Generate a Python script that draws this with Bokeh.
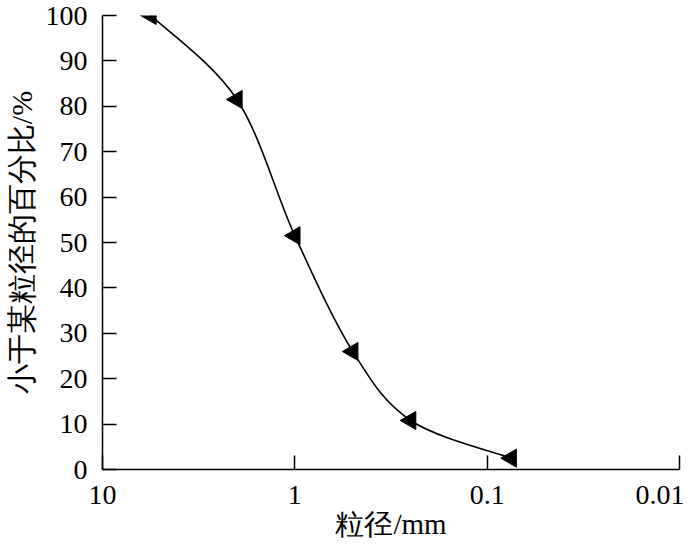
import math
import numpy as np
from bokeh.plotting import figure
from bokeh.models import Range1d, FixedTicker, CustomJSTickFormatter
from bokeh.embed import file_html
from bokeh.resources import INLINE

# ---- data ----
size_mm = [5.6, 2.0, 1.0, 0.5, 0.25, 0.075]
pct_finer = [100.0, 81.5, 51.5, 26.0, 10.8, 2.5]
x_ticks = [10, 1, 0.1, 0.01]
y_ticks = [0, 10, 20, 30, 40, 50, 60, 70, 80, 90, 100]

SERIF = "Times New Roman, Liberation Serif, serif"

p = figure(width=684, height=544, output_backend="svg", toolbar_location=None,
           x_axis_type="log", x_range=Range1d(10, 0.01), y_range=Range1d(0, 100),
           min_border_left=102, min_border_right=5, min_border_top=15, min_border_bottom=75)
p.outline_line_color = None
p.xgrid.grid_line_color = None
p.ygrid.grid_line_color = None
p.background_fill_color = "white"
p.border_fill_color = "white"

# smooth curve: Catmull-Rom segments in (log x, y) drawn as cubic beziers
lx = np.log10(np.array(size_mm))
yy = np.array(pct_finer)
n = len(lx)
x0s, y0s, x1s, y1s, cx0s, cy0s, cx1s, cy1s = [], [], [], [], [], [], [], []
for i in range(n - 1):
    pm = (lx[max(i - 1, 0)], yy[max(i - 1, 0)])
    p0 = (lx[i], yy[i])
    p1 = (lx[i + 1], yy[i + 1])
    p2 = (lx[min(i + 2, n - 1)], yy[min(i + 2, n - 1)])
    c0 = (p0[0] + (p1[0] - pm[0]) / 6, p0[1] + (p1[1] - pm[1]) / 6)
    c1 = (p1[0] - (p2[0] - p0[0]) / 6, p1[1] - (p2[1] - p0[1]) / 6)
    x0s.append(10 ** p0[0]); y0s.append(p0[1])
    x1s.append(10 ** p1[0]); y1s.append(p1[1])
    cx0s.append(10 ** c0[0]); cy0s.append(c0[1])
    cx1s.append(10 ** c1[0]); cy1s.append(c1[1])
p.bezier(x0=x0s, y0=y0s, x1=x1s, y1=y1s, cx0=cx0s, cy0=cy0s, cx1=cx1s, cy1=cy1s,
         line_color="black", line_width=1.6)

p.scatter(size_mm, pct_finer, marker="triangle", size=18, angle=math.pi / 2,
          fill_color="black", line_color="black")

for ax in (p.xaxis[0], p.yaxis[0]):
    ax.axis_line_color = "black"
    ax.axis_line_width = 1.5
    ax.major_tick_line_color = "black"
    ax.major_tick_line_width = 1.5
    ax.major_tick_out = 0
    ax.major_tick_in = 14
    ax.minor_tick_line_color = None
    ax.major_label_text_font = SERIF
    ax.major_label_text_font_size = "28px"
    ax.major_label_text_color = "black"
    ax.axis_label_text_font = SERIF
    ax.axis_label_text_font_style = "normal"
    ax.axis_label_text_color = "black"

p.xaxis.ticker = FixedTicker(ticks=x_ticks)
p.xaxis.formatter = CustomJSTickFormatter(code="return String(Number(tick.toPrecision(6)));")
p.xaxis.major_label_standoff = 16
p.xaxis.axis_label = "粒径/mm"
p.xaxis.axis_label_text_font_size = "29px"
p.xaxis.axis_label_standoff = 1

p.yaxis.ticker = FixedTicker(ticks=y_ticks)
p.yaxis.major_label_standoff = 15
p.yaxis.axis_label = "小于某粒径的百分比/%"
p.yaxis.axis_label_text_font_size = "30px"
p.yaxis.axis_label_standoff = 5

open("out.html", "w").write(file_html(p, INLINE))
